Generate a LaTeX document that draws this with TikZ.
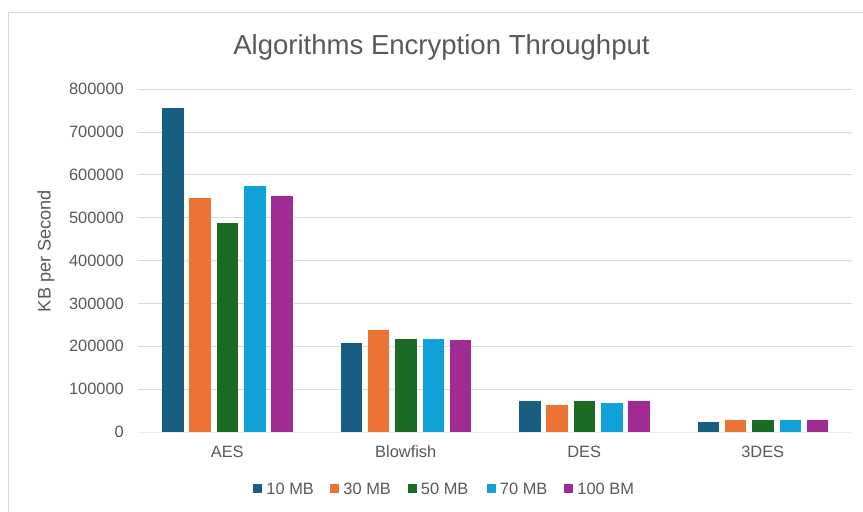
\documentclass[tikz,border=0pt]{standalone}
\usepackage{fontspec}
\setmainfont{Liberation Sans}
\usetikzlibrary{positioning}

\definecolor{mb10}{HTML}{175E82}
\definecolor{mb30}{HTML}{EB7434}
\definecolor{mb50}{HTML}{1B6B24}
\definecolor{mb70}{HTML}{10A1D8}
\definecolor{mb100}{HTML}{A02B93}
\definecolor{txtgray}{HTML}{595959}
\definecolor{gridgray}{HTML}{D9D9D9}

\tikzset{
  ticklabel/.style={anchor=east, inner sep=0pt, text=txtgray, font=\fontsize{14}{16}\selectfont},
  catlabel/.style={inner sep=0pt, text=txtgray, font=\fontsize{14}{16}\selectfont},
  keybox/.style={inner sep=0pt, minimum size=0.27cm},
  keylabel/.style={right=0.12cm of #1, inner sep=0pt, text=txtgray, font=\fontsize{14}{16}\selectfont}
}

\begin{document}
\begin{tikzpicture}[x=0.03cm,y=0.03cm]
        \useasboundingbox (0,0) rectangle (863,512);
        \fill[white] (0,0) rectangle (863,512);
        % chart frame
        \draw[gridgray] (8,-20) rectangle (900,500);

        \node[text=txtgray, font=\fontsize{23.5}{26}\selectfont] (title) at (441.5,465) {Algorithms Encryption Throughput};
        \node[rotate=90, text=txtgray, font=\fontsize{15.5}{18}\selectfont] (ylab) at (46,261) {KB per Second};

        % value axis, steps of 100000
        \begin{scope}[yshift=2.4cm, y=1.28625cm]
  \foreach \k in {1,...,8}
    \draw[gridgray] (138,\k) -- (852,\k);
  \foreach \k/\v in {0/0,1/100000,2/200000,3/300000,4/400000,5/500000,6/600000,7/700000,8/800000}
    \node[ticklabel] (tick\k) at (124,\k) {\v};

  % AES
  \fill[mb10]  (162,0)   rectangle (183.5,7.56);
  \fill[mb30]  (189,0)   rectangle (210.5,5.45);
  \fill[mb50]  (216.5,0) rectangle (238,4.87);
  \fill[mb70]  (244,0)   rectangle (265.5,5.73);
  \fill[mb100] (271,0)   rectangle (292.5,5.51);
  % Blowfish
  \fill[mb10]  (340.5,0) rectangle (362,2.07);
  \fill[mb30]  (367.5,0) rectangle (389,2.37);
  \fill[mb50]  (395,0)   rectangle (416.5,2.17);
  \fill[mb70]  (422.5,0) rectangle (444,2.17);
  \fill[mb100] (449.5,0) rectangle (471,2.14);
  % DES
  \fill[mb10]  (519,0)   rectangle (540.5,0.716);
  \fill[mb30]  (546,0)   rectangle (567.5,0.63);
  \fill[mb50]  (573.5,0) rectangle (595,0.716);
  \fill[mb70]  (601,0)   rectangle (622.5,0.684);
  \fill[mb100] (628,0)   rectangle (649.5,0.716);
  % 3DES
  \fill[mb10]  (697.5,0) rectangle (719,0.24);
  \fill[mb30]  (724.5,0) rectangle (746,0.273);
  \fill[mb50]  (752,0)   rectangle (773.5,0.273);
  \fill[mb70]  (779.5,0) rectangle (801,0.273);
  \fill[mb100] (806.5,0) rectangle (828,0.273);

  \draw[gridgray!85!black!30] (138,0) -- (852,0);
\end{scope}

        % categories
        \node[catlabel] (aes) at (227.25,60) {AES};
        \node[catlabel] (blowfish) at (405.75,60) {Blowfish};
        \node[catlabel] (des) at (584.25,60) {DES};
        \node[catlabel] (tdes) at (762.75,60) {3DES};

        % legend
        \node[keybox, fill=mb10] (k10) at (257.5,23) {};
        \node[keylabel=k10] (l10) {10 MB};
        \node[keybox, fill=mb30] (k30) at (334.5,23) {};
        \node[keylabel=k30] (l30) {30 MB};
        \node[keybox, fill=mb50] (k50) at (412,23) {};
        \node[keylabel=k50] (l50) {50 MB};
        \node[keybox, fill=mb70] (k70) at (491,23) {};
        \node[keylabel=k70] (l70) {70 MB};
        \node[keybox, fill=mb100] (k100) at (568.5,23) {};
        \node[keylabel=k100] (l100) {100 BM};

      \end{tikzpicture}
\end{document}
